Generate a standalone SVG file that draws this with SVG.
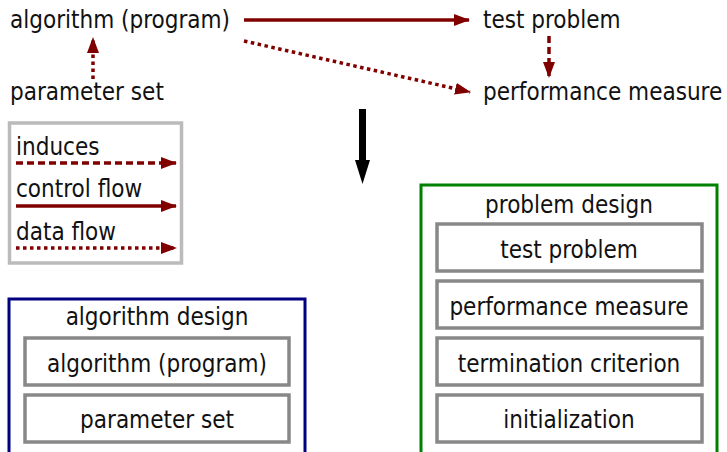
<svg xmlns="http://www.w3.org/2000/svg" width="727" height="452" viewBox="0 0 727 452">
<defs>
<style>
text{font-family:"DejaVu Sans Condensed","DejaVu Sans","Liberation Sans",sans-serif;font-stretch:condensed;font-size:24px;fill:#111}
.c{text-anchor:middle}
.ln{stroke:#800000;stroke-width:3.5;fill:none}
.dash{stroke-dasharray:7 4}
.dot{stroke-dasharray:3.5 3.5}
.box{fill:#fff;stroke:#888;stroke-width:3.5}
</style>
<marker id="ah" markerUnits="userSpaceOnUse" markerWidth="16" markerHeight="12" refX="15" refY="6" orient="auto" viewBox="0 0 16 12">
<path d="M0,0 L16,6 L0,12 Z" fill="#800000"/>
</marker>
</defs>
<rect width="727" height="452" fill="#fff"/>
<g id="n-algorithm"><text x="10" y="28">algorithm (program)</text></g>
<g id="n-testproblem"><text x="483" y="28">test problem</text></g>
<g id="n-parameterset"><text x="10" y="100">parameter set</text></g>
<g id="n-performance"><text x="483" y="100">performance measure</text></g>
<g id="connectors">
<line class="ln" x1="244" y1="20" x2="469" y2="20" marker-end="url(#ah)"/>
<line class="ln dot" x1="244" y1="41" x2="470" y2="92" marker-end="url(#ah)"/>
<line class="ln dash" x1="549" y1="36" x2="549" y2="77" marker-end="url(#ah)"/>
<line class="ln dot" x1="93" y1="79" x2="93" y2="38" marker-end="url(#ah)"/>
<polygon points="359,109 366,109 366,160 370,160 362.5,184 355,160 359,160" fill="#000"/>
</g>
<g id="legend">
<rect x="9.5" y="123" width="172" height="140" fill="none" stroke="#bbb" stroke-width="3.5"/>
<text x="16" y="155">induces</text>
<line class="ln dash" x1="16" y1="163" x2="176" y2="163" marker-end="url(#ah)"/>
<text x="16" y="197">control flow</text>
<line class="ln" x1="16" y1="206" x2="176" y2="206" marker-end="url(#ah)"/>
<text x="16" y="240">data flow</text>
<line class="ln dot" x1="16" y1="248" x2="176" y2="248" marker-end="url(#ah)"/>
</g>
<g id="algorithm-design">
<rect x="9" y="299" width="296" height="170" fill="none" stroke="#000080" stroke-width="3"/>
<text class="c" x="157" y="325">algorithm design</text>
<g id="ad-algorithm"><rect class="box" x="25" y="338" width="264" height="47"/><text class="c" x="157" y="372">algorithm (program)</text></g>
<g id="ad-parameter"><rect class="box" x="25" y="395" width="264" height="47"/><text class="c" x="157" y="428">parameter set</text></g>
</g>
<g id="problem-design">
<rect x="421" y="185" width="296" height="290" fill="none" stroke="#008000" stroke-width="3"/>
<text class="c" x="569" y="213">problem design</text>
<g id="pd-test"><rect class="box" x="437" y="224" width="265" height="47"/><text class="c" x="569" y="258">test problem</text></g>
<g id="pd-perf"><rect class="box" x="437" y="281" width="265" height="47"/><text class="c" x="569" y="315">performance measure</text></g>
<g id="pd-term"><rect class="box" x="437" y="338" width="265" height="47"/><text class="c" x="569" y="372">termination criterion</text></g>
<g id="pd-init"><rect class="box" x="437" y="395" width="265" height="47"/><text class="c" x="569" y="428">initialization</text></g>
</g>
</svg>
